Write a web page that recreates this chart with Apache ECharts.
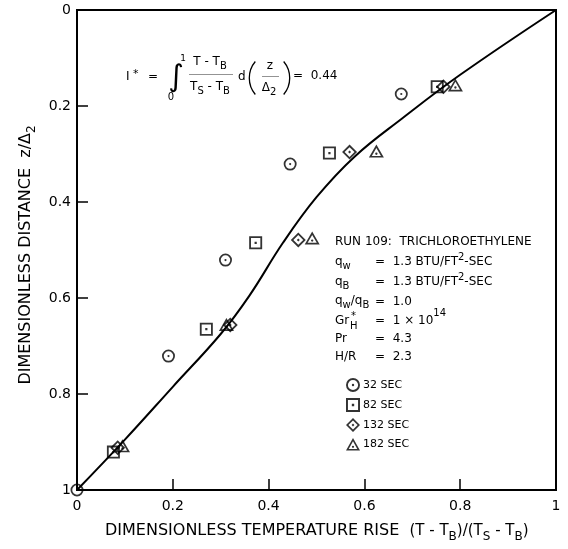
<!DOCTYPE html>
<html>
<head>
<meta charset="utf-8">
<script src="https://cdn.jsdelivr.net/npm/echarts@6/dist/echarts.min.js"></script>
<style>
  html, body { margin: 0; padding: 0; background: #fff; }
  #chart { width: 568px; height: 549px; }
</style>
</head>
<body>
<div id="chart"></div>
<script>
// Axis ticks (both axes run 0..1 in steps of 0.2)
const tickValues = [0, 0.2, 0.4, 0.6, 0.8, 1];
const tickLabels = ['0', '0.2', '0.4', '0.6', '0.8', '1'];

// Measured profiles, one series per elapsed time
const seriesNames = ['32 SEC', '82 SEC', '132 SEC', '182 SEC'];

const sec32X  = [0.000, 0.191, 0.310, 0.445, 0.677];
const sec32Y  = [1.000, 0.721, 0.521, 0.321, 0.175];

const sec82X  = [0.076, 0.270, 0.373, 0.527, 0.752];
const sec82Y  = [0.921, 0.665, 0.485, 0.298, 0.160];

const sec132X = [0.085, 0.320, 0.462, 0.569, 0.765];
const sec132Y = [0.912, 0.656, 0.479, 0.296, 0.160];

const sec182X = [0.095, 0.312, 0.491, 0.625, 0.790];
const sec182Y = [0.908, 0.655, 0.475, 0.294, 0.156];

// Correlating curve through the data
const fitX = [0, 0.10, 0.20, 0.30, 0.36, 0.43, 0.50, 0.58, 0.68, 0.80, 1];
const fitY = [1, 0.895, 0.785, 0.675, 0.595, 0.485, 0.390, 0.305, 0.225, 0.135, 0];

const FONT = 'DejaVu Sans';

// Hollow markers with a centre dot (outer contour, reversed inner contour, dot)
const SYM_CIRCLE = 'path://M0,-10A10,10,0,1,1,0,10A10,10,0,1,1,0,-10Z' +
  'M0,-7.3A7.3,7.3,0,1,0,0,7.3A7.3,7.3,0,1,0,0,-7.3Z' +
  'M0,-1.7A1.7,1.7,0,1,1,0,1.7A1.7,1.7,0,1,1,0,-1.7Z';
const SYM_SQUARE = 'path://M-10,-10H10V10H-10Z' +
  'M-7.2,-7.2V7.2H7.2V-7.2Z' +
  'M-1.7,-1.7H1.7V1.7H-1.7Z';
const SYM_DIAMOND = 'path://M0,-10L10,0L0,10L-10,0Z' +
  'M0,-6.6L-6.6,0L0,6.6L6.6,0Z' +
  'M0,-2L2,0L0,2L-2,0Z';
const SYM_TRIANGLE = 'path://M0,-10L10,8L-10,8Z' +
  'M0,-5.3L-6.1,5.7L6.1,5.7Z' +
  'M0,1A1.6,1.6,0,1,1,0,4.2A1.6,1.6,0,1,1,0,1Z';

function pairs(xs, ys) { return xs.map((x, i) => [x, ys[i]]); }

function markerSeries(name, xs, ys, symbol, size) {
  return {
    name: name,
    type: 'scatter',
    data: pairs(xs, ys),
    symbol: symbol,
    symbolSize: size,
    itemStyle: { color: '#000' },
    z: 5
  };
}

// Text helper for the graphic layer
function txt(x, y, text, size, extra) {
  return {
    type: 'text', x: x, y: y, silent: true,
    style: Object.assign({
      text: text, fill: '#000', fontFamily: FONT, fontSize: size,
      textAlign: 'left', textVerticalAlign: 'middle'
    }, extra || {})
  };
}
function hline(x1, x2, y, color, w) {
  return { type: 'line', silent: true,
    shape: { x1: x1, y1: y, x2: x2, y2: y },
    style: { stroke: color, lineWidth: w } };
}

const richSmall = {
  s: { fontFamily: FONT, fontSize: 10, verticalAlign: 'bottom', height: 11, fill: '#000' },
  p: { fontFamily: FONT, fontSize: 10, verticalAlign: 'top', height: 11, fill: '#000' },
  pp: { fontFamily: FONT, fontSize: 10, verticalAlign: 'top', height: 5, fill: '#000' }
};
const richTitle = {
  s: { fontFamily: FONT, fontSize: 12, verticalAlign: 'bottom', height: 13, fill: '#000' },
  f: { fontFamily: FONT, fontSize: 15, fill: '#000' }
};

const graphics = [
  // I* = integral expression
  txt(126, 77, 'I', 12),
  txt(133, 74, '*', 11),
  txt(148, 77, '=', 12),
  txt(176, 78, '\u222B', 30, { textAlign: 'center' }),
  txt(183, 59, '1', 9, { textAlign: 'center' }),
  txt(171, 97, '0', 10, { textAlign: 'center' }),
  txt(210, 62, 'T - T{s|B}', 12, { textAlign: 'center', lineHeight: 20, rich: richSmall }),
  hline(189, 233, 74.5, '#777', 0.8),
  txt(210, 87, 'T{s|S} - T{s|B}', 12, { textAlign: 'center', lineHeight: 20, rich: richSmall }),
  txt(238, 77, 'd', 12),
  { type: 'arc', silent: true,
    shape: { cx: 275, cy: 78, r: 25.7, startAngle: Math.PI * 140 / 180, endAngle: Math.PI * 220 / 180, clockwise: true },
    style: { stroke: '#000', fill: 'none', lineWidth: 1.3 } },
  txt(270, 66, 'z', 12, { textAlign: 'center' }),
  hline(262, 279, 76.5, '#777', 0.8),
  txt(269, 88, '\u0394{s|2}', 12, { textAlign: 'center', lineHeight: 20, rich: richSmall }),
  { type: 'arc', silent: true,
    shape: { cx: 264, cy: 78, r: 25.7, startAngle: -Math.PI * 40 / 180, endAngle: Math.PI * 40 / 180, clockwise: true },
    style: { stroke: '#000', fill: 'none', lineWidth: 1.3 } },
  txt(293, 76, '=  0.44', 12),

  // Run description
  txt(335, 242, 'RUN 109:  TRICHLOROETHYLENE', 12),
  txt(335, 262, 'q{s|w}', 12, { lineHeight: 20, rich: richSmall }),
  txt(375, 262, '=  1.3 BTU/FT{p|2}-SEC', 12, { lineHeight: 20, rich: richSmall }),
  txt(335, 282, 'q{s|B}', 12, { lineHeight: 20, rich: richSmall }),
  txt(375, 282, '=  1.3 BTU/FT{p|2}-SEC', 12, { lineHeight: 20, rich: richSmall }),
  txt(335, 301, 'q{s|w}/q{s|B}', 12, { lineHeight: 20, rich: richSmall }),
  txt(375, 302, '=  1.0', 12),
  txt(335, 321, 'Gr', 12),
  txt(351, 316, '*', 10),
  txt(350, 326, 'H', 10),
  txt(375, 321, '=  1 \u00D7 10{pp|14}', 12, { lineHeight: 20, rich: richSmall }),
  txt(335, 339, 'Pr', 12),
  txt(375, 339, '=  4.3', 12),
  txt(335, 357, 'H/R', 12),
  txt(375, 357, '=  2.3', 12),

  // Axis titles
  txt(105, 531, 'DIMENSIONLESS TEMPERATURE RISE  {f|(T - T}{s|B}{f|)/(T}{s|S}{f| - T}{s|B}{f|)}', 16,
      { lineHeight: 24, rich: richTitle }),
  { type: 'text', x: 26, y: 255, rotation: Math.PI / 2, silent: true,
    style: { text: 'DIMENSIONLESS DISTANCE  z/\u0394{s|2}', fill: '#000', fontFamily: FONT, fontSize: 16,
      textAlign: 'center', textVerticalAlign: 'middle', lineHeight: 24, rich: richTitle } }
];

const axisCommon = {
  type: 'value', min: 0, max: 1, interval: 0.2,
  axisLine: { show: true, onZero: false, lineStyle: { color: '#000', width: 2 } },
  axisTick: { show: true, inside: true, length: 11, lineStyle: { color: '#000', width: 1.5 } },
  splitLine: { show: false },
  axisLabel: {
    color: '#000', fontFamily: FONT, fontSize: 14,
    formatter: v => tickLabels[tickValues.findIndex(t => Math.abs(t - v) < 1e-9)] || ''
  }
};

const chart = echarts.init(document.getElementById('chart'), null, { renderer: 'canvas' });
chart.setOption({
  animation: false,
  backgroundColor: '#fff',
  grid: {
    left: 77, top: 10, width: 479, height: 480,
    show: true, borderColor: '#000', borderWidth: 2, backgroundColor: 'transparent',
    containLabel: false, outerBoundsMode: 'none'
  },
  xAxis: Object.assign({}, axisCommon, {
    position: 'bottom',
    axisLabel: Object.assign({}, axisCommon.axisLabel, { margin: 9 })
  }),
  yAxis: Object.assign({}, axisCommon, {
    position: 'left', inverse: true,
    axisLabel: Object.assign({}, axisCommon.axisLabel, { margin: 6 })
  }),
  legend: {
    data: seriesNames,
    orient: 'vertical', left: 346, top: 378, padding: 0,
    itemWidth: 14, itemHeight: 14, itemGap: 6,
    selectedMode: false,
    textStyle: { color: '#000', fontFamily: FONT, fontSize: 11, padding: [0, 0, 0, -2] }
  },
  series: [
    {
      name: 'fit', type: 'line', data: pairs(fitX, fitY),
      showSymbol: false, smooth: 0.4,
      lineStyle: { color: '#000', width: 2 }, z: 3
    },
    markerSeries(seriesNames[0], sec32X, sec32Y, SYM_CIRCLE, [13, 13]),
    markerSeries(seriesNames[1], sec82X, sec82Y, SYM_SQUARE, [13, 13]),
    markerSeries(seriesNames[2], sec132X, sec132Y, SYM_DIAMOND, [15, 15]),
    markerSeries(seriesNames[3], sec182X, sec182Y, SYM_TRIANGLE, [15, 13])
  ],
  graphic: graphics
});
</script>
</body>
</html>
